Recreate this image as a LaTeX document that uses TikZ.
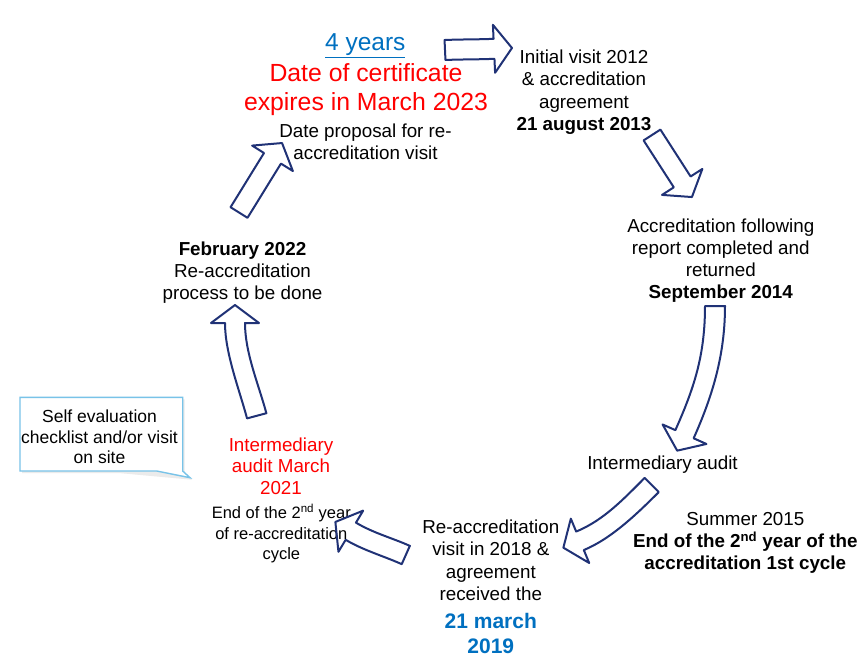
\documentclass[tikz,border=0pt]{standalone}
\usepackage{fontspec}
\setmainfont{Liberation Sans}
\usetikzlibrary{calc}
\definecolor{navy}{RGB}{32,50,118}
\definecolor{cred}{RGB}{255,0,0}
\definecolor{cblue}{RGB}{0,112,192}
\definecolor{callblue}{RGB}{120,195,232}
\def\bkw{10}\def\bkh{24}\def\bkl{18}
\newcommand\blkarrow[8]{%
  \coordinate (bS) at (#1,#2);
  \coordinate (bE) at (#4,#5);
  \draw[blk] ($(bS)+(#3-90:\bkw)$) .. controls ($(bS)+(#3-90:\bkw)+(#3:#7)$) and ($(bE)+(#6-90:\bkw)+(#6+180:#8)$) .. ($(bE)+(#6-90:\bkw)$) -- ($(bE)+(#6-90:\bkh)$) -- ($(bE)+(#6:\bkl)$) -- ($(bE)+(#6+90:\bkh)$) -- ($(bE)+(#6+90:\bkw)$) .. controls ($(bE)+(#6+90:\bkw)+(#6+180:#8)$) and ($(bS)+(#3+90:\bkw)+(#3:#7)$) .. ($(bS)+(#3+90:\bkw)$) -- cycle;}
\begin{document}
\begin{tikzpicture}[x=1pt,y=-1pt,
  blk/.style={draw=navy, line width=2pt, line join=round},
  txt/.style={inner sep=0pt, align=center, anchor=north, font=\fontsize{18.8}{22.3}\selectfont},
  callbox/.style={draw=callblue, line width=1.4pt, fill=white, line join=miter}]
\useasboundingbox[fill=white] (0,0) rectangle (862,657);

% callout box
\fill[black!8] (22,399.3) -- (184.7,399.3) -- (184.7,473) -- (192,479.7) -- (118.7,473) -- (22,473) -- cycle;
\draw[callbox] (20,397.3) -- (182.7,397.3) -- (182.7,471) -- (190,477.7) -- (156.7,471) -- (20,471) -- cycle;

% texts
\node[txt, font=\fontsize{24.5}{29}\selectfont, text=cblue] (years) at (365.3,33.2) {\underline{4 years}};
\node[txt, font=\fontsize{24.8}{29}\selectfont, text=cred] (cert) at (366,63.8) {Date of certificate\\expires in March 2023};
\node[txt] (proposal) at (365.5,123.2) {Date proposal for re-\\accreditation visit};
\node[txt] (initial) at (584,49.8) {Initial visit 2012\\\& accreditation\\agreement\\\textbf{21 august 2013}};
\node[txt] (report) at (720.8,218.2) {Accreditation following\\report completed and\\returned\\\textbf{September 2014}};
\node[txt] (intaudit) at (662.5,455.8) {Intermediary audit};
\node[txt, font=\fontsize{18.8}{22}\selectfont] (summer) at (745.3,512.5) {Summer 2015\\\textbf{End of the 2\textsuperscript{nd} year of the}\\\textbf{accreditation 1st cycle}};
\node[txt] (reaccred) at (490.8,519.8) {Re-accreditation\\visit in 2018 \&\\agreement\\received the};
\node[txt, font=\bfseries\fontsize{21}{24.4}\selectfont, text=cblue] (date2019) at (490.8,613.3) {21 march\\2019};
\node[txt] (feb) at (242.5,241.5) {\textbf{February 2022}\\Re-accreditation\\process to be done};
\node[txt, text=cred, font=\fontsize{18.8}{21.8}\selectfont] (int2021) at (281,437.2) {Intermediary\\audit March\\2021};
\node[txt, font=\fontsize{16.5}{20.5}\selectfont] (endcycle) at (281.3,503.8) {End of the 2\textsuperscript{nd} year\\of re-accreditation\\cycle};
\node[txt, font=\fontsize{17.5}{20.5}\selectfont] (selfeval) at (99.5,409.7) {Self evaluation\\checklist and/or visit\\on site};

% block arrows
\blkarrow{445}{50}{-2.6}{494}{48.8}{-2.6}{16}{16}
\blkarrow{652}{135}{57.2}{682.2}{181.9}{57.2}{15}{15}
\blkarrow{715}{306}{90}{684.5}{434.2}{114}{50}{45}
\blkarrow{651.7}{485}{135}{580}{540.8}{157.5}{30}{30}
\blkarrow{405.8}{555}{-156}{350.8}{531.2}{-149}{20}{20}
\blkarrow{256.7}{415.8}{-105}{235}{323}{-90}{30}{30}
\blkarrow{239}{212.5}{-58}{272.5}{158.3}{-58}{18}{18}
\end{tikzpicture}
\end{document}
